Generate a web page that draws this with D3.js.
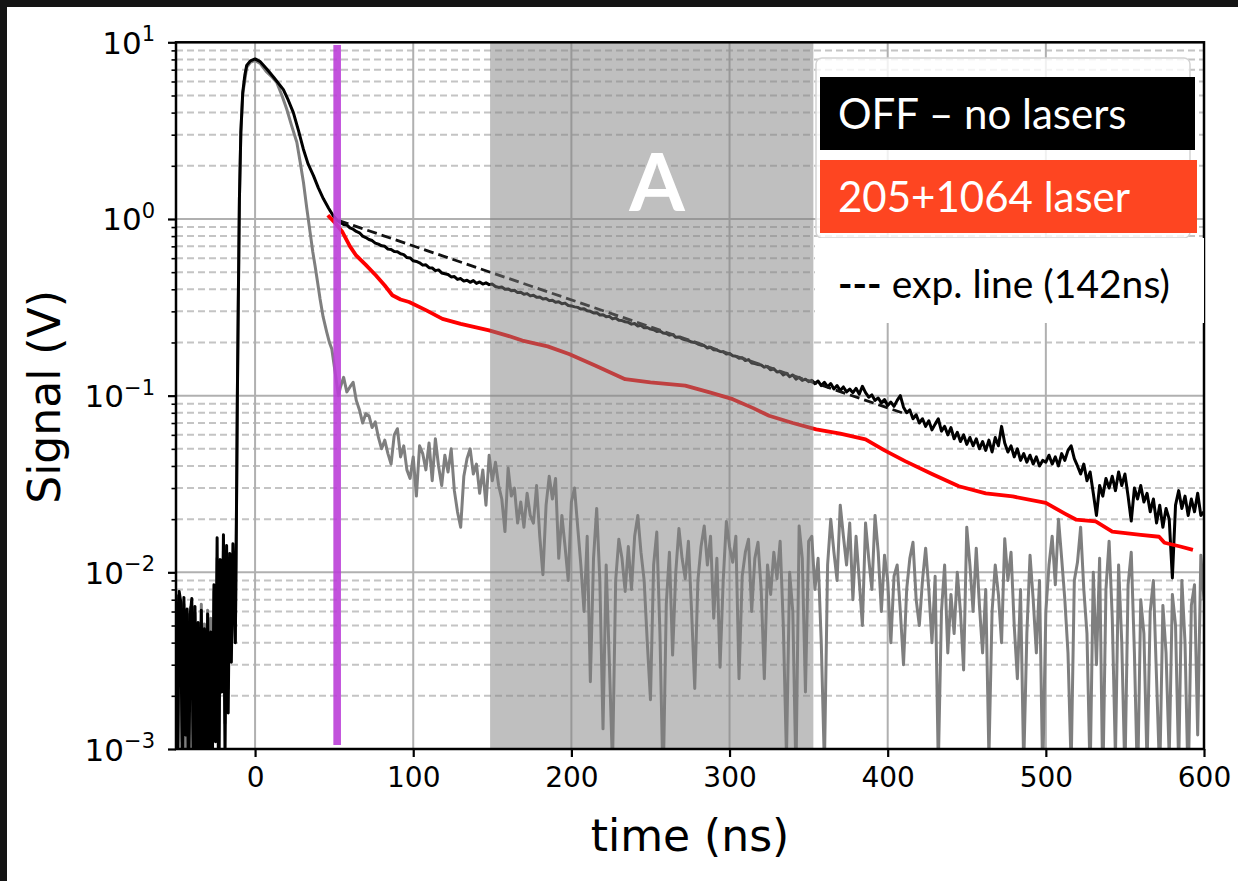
<!DOCTYPE html>
<html>
<head>
<meta charset="utf-8">
<script src="https://cdn.jsdelivr.net/npm/d3@7"></script>
<style>
  body { margin: 0; background: #141414; }
  svg { display: block; }
  .tick-label { font-family: "DejaVu Sans", sans-serif; fill: #000; }
  .axis-title { font-family: "DejaVu Sans", sans-serif; fill: #000; }
  .legend-text { font-family: Lato, "Open Sans", sans-serif; }
</style>
</head>
<body>
<svg id="chart" width="1238" height="881"></svg>
<script>
// Data
const xTicks = [0, 100, 200, 300, 400, 500, 600];
const yDecades = [-3, -2, -1, 0, 1];
const shadeRange = [148.6, 353];
const markerT = 51.9;

// pre-trigger noise, t = -50 .. -13 step 1
const preT0 = -50, preStep = 1;
const offPre = [0.0075,0.0005,0.0078,0.0068,0.0006,0.0072,0.0012,0.0062,0.0004,0.0058,0.0071,0.0005,0.0064,0.0009,0.0052,0.0003,0.0061,0.0007,0.0048,0.0002,0.0058,0.0006,0.0046,0.0008,0.0085,0.0011,0.0157,0.0004,0.0118,0.0021,0.0163,0.0009,0.0142,0.0016,0.0128,0.0031,0.0145,0.006];
const grayPre = [0.0068,0.0009,0.0072,0.0055,0.0011,0.0066,0.0006,0.0058,0.0012,0.0063,0.0052,0.0008,0.0059,0.0014,0.0047,0.0007,0.0066,0.0012,0.0051,0.0006,0.0061,0.0013,0.0055,0.0009,0.0078,0.0018,0.012,0.0009,0.0105,0.0026,0.0132,0.0014,0.0128,0.0022,0.0115,0.0041,0.0125,0.0065];

// pulse [t, V]
const offPulse = [[-12.5,0.004],[-11.8,0.02],[-11.2,0.1],[-10.6,0.35],[-9.9,1.3],[-9,3.1],[-7.8,5.2],[-6.5,6.5],[-5.3,7.4],[-3,7.85],[0,8.05],[3,7.8],[7.4,7.06],[12,6.3],[17.9,5.4],[21,4.7],[24.2,4.0],[27.5,3.15],[30.5,2.49],[33.5,2.05],[36.9,1.76],[40,1.5],[43.2,1.3],[46.5,1.15],[49.5,1.04],[52,0.98]];
const grayPulse = [[-12.5,0.004],[-11.8,0.02],[-11.2,0.1],[-10.6,0.35],[-9.9,1.3],[-9,3.1],[-7.8,5.1],[-5.3,7.2],[-3,7.7],[0,7.9],[3.2,7.6],[7,6.85],[10.5,6.4],[13.7,5.93],[17,5.0],[20,4.19],[23,3.4],[26.4,2.72],[28.5,2.1],[30.6,1.61],[32.7,1.15],[34.8,0.84],[36.5,0.65],[37.9,0.545],[39.5,0.44],[41.1,0.352],[43,0.28],[45.3,0.229],[47,0.2],[48.5,0.184],[50.6,0.136],[52.7,0.1]];

// tails, t = 54 .. 600 step 2
const tailT0 = 54, tailStep = 2;
const offTail = [
  0.955,0.93,0.925,0.89,0.875,0.85,0.835,0.80,0.785,0.765,0.755,0.73,0.72,0.705,0.70,0.675,0.672,0.655,0.652,0.635,0.628,0.605,0.602,0.58,
  0.575,0.565,0.548,0.55,0.53,0.528,0.51,0.515,0.495,0.49,0.485,0.47,0.472,0.455,0.46,0.445,0.45,0.438,0.448,0.432,0.44,0.428,0.435,0.425,0.428,
  0.415,0.41,0.412,0.40,0.402,0.392,0.395,0.383,0.385,0.375,0.378,0.367,0.37,0.36,0.362,0.352,0.355,0.345,0.347,0.338,0.34,0.331,0.334,0.324,0.322,
  0.318,0.316,0.309,0.31,0.302,0.30,0.294,0.295,0.286,0.287,0.28,0.281,0.272,0.275,0.267,0.266,0.262,0.26,0.254,0.256,0.248,0.25,0.242,0.243,0.238,
  0.236,0.231,0.232,0.226,0.225,0.22,0.222,0.214,0.215,0.21,0.207,0.205,0.201,0.2,0.196,0.193,0.192,0.186,0.188,0.182,0.181,0.178,0.177,0.172,0.173,
  0.168,0.167,0.163,0.164,0.158,0.16,0.153,0.152,0.15,0.149,0.145,0.146,0.14,0.142,0.136,0.137,0.131,0.134,0.128,0.131,0.124,0.127,0.122,0.124,0.12,
  0.122,0.117,0.121,0.114,0.119,0.112,0.117,0.109,0.114,0.107,0.112,0.105,0.109,0.104,0.11,0.102,0.113,0.104,0.098,0.101,0.094,0.097,0.091,0.095,0.088,
  0.092,0.087,0.094,0.1,0.086,0.08,0.083,0.074,0.078,0.07,0.074,0.067,0.072,0.064,0.069,0.074,0.063,0.067,0.06,0.066,0.057,0.062,0.055,0.06,0.053,
  0.058,0.052,0.057,0.05,0.055,0.049,0.056,0.048,0.058,0.052,0.067,0.054,0.048,0.052,0.045,0.05,0.043,0.047,0.042,0.046,0.041,0.045,0.04,0.043,0.042,
  0.046,0.041,0.045,0.04,0.047,0.043,0.049,0.052,0.044,0.04,0.036,0.041,0.033,0.037,0.028,0.021,0.031,0.027,0.034,0.03,0.035,0.029,0.037,0.031,0.036,
  0.027,0.0195,0.03,0.026,0.031,0.025,0.028,0.022,0.026,0.019,0.024,0.018,0.023,0.02,0.0093,0.024,0.029,0.023,0.027,0.021,0.026,0.022,0.028,0.021,0.022
];
const grayTail = [
  0.112,0.127,0.105,0.112,0.119,0.094,0.083,0.07,0.079,0.077,0.066,0.071,0.058,0.05,0.056,0.047,0.041,0.06,0.065,0.045,0.052,0.038,0.034,0.045,
  0.027,0.052,0.047,0.038,0.054,0.033,0.057,0.04,0.031,0.046,0.037,0.05,0.029,0.022,0.018,0.035,0.044,0.05,0.036,0.041,0.028,0.038,0.024,0.046,0.033,
  0.042,0.031,0.026,0.017,0.039,0.027,0.03,0.019,0.025,0.018,0.028,0.021,0.019,0.031,0.016,0.0097,0.024,0.035,0.026,0.034,0.012,0.021,0.014,0.009,0.025,
  0.03,0.018,0.011,0.006,0.016,0.0024,0.012,0.023,0.009,0.0013,0.011,0.0031,0.0008,0.009,0.0154,0.012,0.0078,0.014,0.008,0.016,0.021,0.013,0.009,0.004,0.0019,
  0.011,0.0169,0.0045,0.0006,0.0066,0.013,0.0034,0.01,0.0177,0.012,0.0092,0.015,0.006,0.0022,0.009,0.014,0.0183,0.011,0.016,0.0055,0.012,0.0029,0.009,0.0194,0.014,
  0.0114,0.016,0.0025,0.0095,0.013,0.0154,0.006,0.012,0.0148,0.008,0.0025,0.011,0.0075,0.013,0.0092,0.015,0.005,0.0009,0.01,0.006,0.0007,0.0183,0.012,0.0021,0.015,
  0.016,0.008,0.012,0.004,0.0008,0.011,0.02,0.013,0.009,0.024,0.016,0.011,0.019,0.007,0.016,0.009,0.005,0.019,0.012,0.008,0.021,0.013,0.006,0.0125,0.009,
  0.004,0.0095,0.011,0.006,0.003,0.008,0.012,0.0148,0.007,0.005,0.009,0.0137,0.008,0.004,0.0095,0.0008,0.006,0.011,0.0035,0.0075,0.0045,0.01,0.006,0.0028,0.018,
  0.011,0.006,0.0137,0.0065,0.0035,0.008,0.0009,0.006,0.011,0.0075,0.004,0.0155,0.009,0.013,0.005,0.0025,0.008,0.0008,0.0045,0.0125,0.007,0.0035,0.009,0.0007,0.006,
  0.011,0.016,0.0085,0.02,0.012,0.007,0.0035,0.0008,0.009,0.0114,0.018,0.008,0.0045,0.0007,0.01,0.003,0.012,0.0006,0.008,0.015,0.0055,0.0009,0.011,0.004,0.0007,
  0.0085,0.013,0.0035,0.0006,0.007,0.0045,0.0008,0.006,0.009,0.0025,0.0007,0.0065,0.0035,0.0009,0.0075,0.005,0.0008,0.009,0.004,0.0006,0.0065,0.0085,0.0012,0.0125,0.007
];

const redTrace = [[46,1.05],[50.6,0.95],[55,0.85],[60,0.7],[63.7,0.625],[70,0.55],[76.3,0.48],[82,0.42],[86.8,0.37],[92,0.35],[97.4,0.339],[108,0.305],[118.5,0.272],[130,0.255],[148,0.234],[160,0.218],[169,0.205],[185,0.19],[198.5,0.172],[215,0.148],[234,0.124],[250,0.119],[272,0.114],[288,0.104],[302,0.0955],[315,0.085],[325,0.077],[340,0.07],[354.8,0.0645],[370,0.061],[386,0.0566],[398,0.049],[411,0.0426],[428,0.036],[445,0.0307],[462,0.028],[479,0.0269],[500,0.0247],[512,0.0215],[519,0.0199],[531.5,0.0194],[542,0.017],[560,0.0163],[571.6,0.0159],[575,0.0147],[585,0.014],[593,0.0134]];
const expLine = [[53,0.98],[410,0.0795]];

// Build [t, v] series
function stepSeries(t0, dt, vals) { return vals.map((v, i) => [t0 + i * dt, v]); }
const offSeries = stepSeries(preT0, preStep, offPre).concat(offPulse, stepSeries(tailT0, tailStep, offTail));
const graySeries = stepSeries(preT0, preStep, grayPre).concat(grayPulse, stepSeries(tailT0, tailStep, grayTail));

// Layout
const W = 1238, H = 881;
const plot = { left: 176, right: 1204, top: 42.3, bottom: 749 };

const svg = d3.select("#chart");

// page background + white slide panel
svg.append("rect").attr("width", W).attr("height", H).attr("fill", "#141414");
svg.append("rect").attr("x", 7).attr("y", 7).attr("width", W - 7).attr("height", H - 7).attr("fill", "#fff");

const x = d3.scaleLinear().domain([-50, 600]).range([plot.left, plot.right]);
const y = d3.scaleLog().domain([1e-3, 10]).range([plot.bottom, plot.top]);

const majors = yDecades.map(e => Math.pow(10, e));
const minors = [];
yDecades.slice(0, -1).forEach(e => { for (let k = 2; k <= 9; k++) minors.push(k * Math.pow(10, e)); });

// Grid
const grid = svg.append("g");
grid.selectAll(".minor").data(minors).join("line")
  .attr("x1", plot.left).attr("x2", plot.right)
  .attr("y1", d => y(d)).attr("y2", d => y(d))
  .attr("stroke", "#c4c4c4").attr("stroke-width", 2).attr("stroke-dasharray", "7,4");
grid.selectAll(".major").data(majors).join("line")
  .attr("x1", plot.left).attr("x2", plot.right)
  .attr("y1", d => y(d)).attr("y2", d => y(d))
  .attr("stroke", "#b0b0b0").attr("stroke-width", 2);
grid.selectAll(".vmajor").data(xTicks).join("line")
  .attr("x1", d => x(d)).attr("x2", d => x(d))
  .attr("y1", plot.top).attr("y2", plot.bottom)
  .attr("stroke", "#b0b0b0").attr("stroke-width", 2);

// Clip
svg.append("clipPath").attr("id", "clip").append("rect")
  .attr("x", plot.left).attr("y", plot.top)
  .attr("width", plot.right - plot.left).attr("height", plot.bottom - plot.top);

const line = d3.line().x(d => x(d[0])).y(d => y(Math.max(d[1], 1e-4)));
const traces = svg.append("g").attr("clip-path", "url(#clip)");

traces.append("path").datum(graySeries).attr("d", line)
  .attr("fill", "none").attr("stroke", "#7f7f7f").attr("stroke-width", 3).attr("stroke-linejoin", "round");
traces.append("path").datum(offSeries).attr("d", line)
  .attr("fill", "none").attr("stroke", "#000").attr("stroke-width", 3).attr("stroke-linejoin", "round");
traces.append("path").datum(redTrace).attr("d", line)
  .attr("fill", "none").attr("stroke", "#ff0000").attr("stroke-width", 3.8).attr("stroke-linejoin", "round");
traces.append("path").datum(expLine).attr("d", line)
  .attr("fill", "none").attr("stroke", "#111").attr("stroke-width", 2.8).attr("stroke-dasharray", "10,5");

// Purple marker line
svg.append("rect")
  .attr("x", x(markerT) - 3.8).attr("width", 7.6)
  .attr("y", 45).attr("height", 700)
  .attr("fill", "#bb3fd8").attr("opacity", 0.9);

// Grey shaded window
svg.append("rect")
  .attr("x", x(shadeRange[0])).attr("width", x(shadeRange[1]) - x(shadeRange[0]))
  .attr("y", plot.top).attr("height", plot.bottom - plot.top)
  .attr("fill", "rgb(128,128,128)").attr("opacity", 0.5);

// Axes
const xAxis = svg.append("g").attr("transform", `translate(0,${plot.bottom})`)
  .call(d3.axisBottom(x).tickValues(xTicks).tickSize(8).tickPadding(10).tickFormat(d3.format("d")));
xAxis.select(".domain").remove();
xAxis.selectAll(".tick line").attr("stroke", "#000").attr("stroke-width", 2.2);
xAxis.selectAll(".tick text").attr("class", "tick-label").style("font-size", "28px").attr("fill", "#000");

const yAxis = svg.append("g").attr("transform", `translate(${plot.left},0)`)
  .call(d3.axisLeft(y).tickValues(majors).tickSize(8).tickFormat(""));
yAxis.select(".domain").remove();
yAxis.selectAll(".tick line").attr("stroke", "#000").attr("stroke-width", 2.2);
const yMinor = svg.append("g").attr("transform", `translate(${plot.left},0)`)
  .call(d3.axisLeft(y).tickValues(minors).tickSize(4.5).tickFormat(""));
yMinor.select(".domain").remove();
yMinor.selectAll(".tick line").attr("stroke", "#000").attr("stroke-width", 1.6);

// y tick labels 10^n
const yLab = svg.append("g").selectAll("text").data(yDecades).join("text")
  .attr("class", "tick-label")
  .attr("x", 155).attr("y", d => y(Math.pow(10, d)) + 11.5)
  .attr("text-anchor", "end");
yLab.append("tspan").style("font-size", "31px").text("10");
yLab.append("tspan").style("font-size", "21px").attr("dy", -12.5)
  .text(d => d < 0 ? "\u2212" + Math.abs(d) : String(d));

// frame
svg.append("rect")
  .attr("x", plot.left).attr("y", plot.top)
  .attr("width", plot.right - plot.left).attr("height", plot.bottom - plot.top)
  .attr("fill", "none").attr("stroke", "#000").attr("stroke-width", 2.5);

// Axis titles
svg.append("text").attr("class", "axis-title")
  .attr("x", 690).attr("y", 851).attr("text-anchor", "middle")
  .style("font-size", "44px").text("time (ns)");
svg.append("text").attr("class", "axis-title")
  .attr("transform", "translate(60,397) rotate(-90)").attr("text-anchor", "middle")
  .style("font-size", "44px").text("Signal (V)");

// Legend area
svg.append("rect").attr("x", 816).attr("y", 58).attr("width", 374).attr("height", 180)
  .attr("rx", 6).attr("fill", "#fff").attr("fill-opacity", 0.82)
  .attr("stroke", "#d4d4d4").attr("stroke-width", 1.5);
svg.append("rect").attr("x", 815).attr("y", 238).attr("width", 389).attr("height", 85).attr("fill", "#fff");

svg.append("rect").attr("x", 820).attr("y", 77).attr("width", 375).attr("height", 73).attr("fill", "#000");
svg.append("rect").attr("x", 820).attr("y", 160).attr("width", 377).attr("height", 73).attr("fill", "#fe4521");

svg.append("text").attr("class", "legend-text").attr("x", 838).attr("y", 129)
  .attr("fill", "#fff").style("font-size", "42px").text("OFF \u2013 no lasers");
svg.append("text").attr("class", "legend-text").attr("x", 838).attr("y", 212)
  .attr("fill", "#fff").style("font-size", "42px").text("205+1064 laser");
const expText = svg.append("text").attr("class", "legend-text").attr("x", 838).attr("y", 298)
  .attr("fill", "#000").style("font-size", "39px");
expText.append("tspan").style("font-weight", "bold").text("---");
expText.append("tspan").text(" exp. line (142ns)");

// Region label
svg.append("text").attr("class", "legend-text")
  .attr("x", 657).attr("y", 211).attr("text-anchor", "middle")
  .attr("fill", "#fff").style("font-size", "80px").style("font-weight", "bold").text("A");
</script>
</body>
</html>
